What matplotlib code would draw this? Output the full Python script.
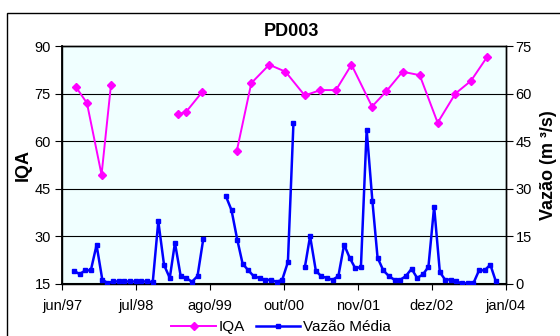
import matplotlib
matplotlib.use('Agg')
import matplotlib.pyplot as plt
import matplotlib.dates as mdates
from matplotlib.lines import Line2D
from matplotlib.patches import Rectangle
import numpy as np
import pandas as pd

plt.rcParams['font.family'] = ['Liberation Sans', 'DejaVu Sans']

nan = np.nan

# IQA (quarterly-ish samples), NaN entries break the line
iqa_datas = ['1997-09-10', '1997-11-10', '1998-01-28', '1998-03-20', '1998-09-01',
             '1999-03-17', '1999-04-30', '1999-07-25', '1999-10-15',
             '2000-01-30', '2000-04-17', '2000-07-23', '2000-10-19',
             '2001-01-31', '2001-04-26', '2001-07-19', '2001-10-11',
             '2002-01-30', '2002-04-17', '2002-07-14', '2002-10-15',
             '2003-01-20', '2003-04-26', '2003-07-19', '2003-10-14']
iqa = [77.2, 72.0, 49.4, 77.8, nan,
       68.5, 69.2, 75.4, nan,
       57.0, 78.3, 84.1, 81.9,
       74.4, 76.1, 76.1, 84.1,
       70.9, 75.7, 81.9, 80.8,
       65.8, 75.0, 79.0, 86.5]

# monthly mean flow, starting set/97
vazao_inicio = '1997-09-01'
vazao = [4.1, 3.0, 4.2, 4.2, 12.2, 1.3, 0.2, 0.7, 0.7, 0.7,
         0.7, 0.7, 0.7, 0.7, 0.5, 19.7, 5.9, 1.8, 12.9, 2.4,
         1.8, 0.6, 2.4, 14.0, nan, nan, nan, 27.7, 23.2, 13.9,
         6.3, 4.2, 2.3, 1.8, 1.2, 1.2, 0.6, 1.2, 6.8, 50.7,
         nan, 5.3, 15.0, 4.1, 2.3, 1.8, 1.2, 2.4, 12.3, 8.2,
         4.8, 5.3, 48.6, 26.1, 8.2, 4.2, 2.4, 1.2, 1.2, 2.4,
         4.7, 1.8, 2.9, 5.3, 24.3, 3.6, 1.3, 1.3, 0.7, 0.1,
         0.1, 0.1, 4.2, 4.2, 6.0, 0.7]

x_labels = ['jun/97', 'jul/98', 'ago/99', 'out/00', 'nov/01', 'dez/02', 'jan/04']
iqa_ticks = [15, 30, 45, 60, 75, 90]
vazao_ticks = [0, 15, 30, 45, 60, 75]

fig = plt.figure(figsize=(5.6, 3.36), dpi=100)
ax = fig.add_axes([0.1107, 0.1557, 0.7923, 0.7073])
ax2 = ax.twinx()

# chart area border (cropped on right/bottom)
fig.patches.append(Rectangle((7 / 560, -0.1), 1.0, 1.1 - 13 / 336, fill=False,
                             edgecolor='black', lw=1.0, transform=fig.transFigure))

ax.set_facecolor('#F0FFFF')
ax2.patch.set_visible(False)

# x axis: Excel style date axis, ticks every 400 days
x0 = pd.Timestamp('1997-06-28')
x_ticks = [x0 + pd.Timedelta(days=400 * i) for i in range(len(x_labels))]
ax.set_xlim(x_ticks[0], x_ticks[-1])
ax.set_xticks(x_ticks)
ax.set_xticklabels(x_labels, fontsize=10.5)

ax.set_ylim(15, 90)
ax.set_yticks(iqa_ticks)
ax.tick_params(axis='y', labelsize=10.5, direction='out', length=5, pad=3)
ax.tick_params(axis='x', direction='out', length=4, pad=7)
for y in iqa_ticks[1:-1]:
    ax.axhline(y, color='black', lw=0.8, zorder=1)

ax2.set_ylim(0, 75)
ax2.set_yticks(vazao_ticks)
ax2.tick_params(axis='y', labelsize=10.5, direction='out', length=5, pad=2)

for a in (ax, ax2):
    for s in a.spines.values():
        s.set_linewidth(1.0)
        s.set_color('black')
ax.spines['bottom'].set_linewidth(1.5)
ax.spines['left'].set_linewidth(1.3)

ax.plot(pd.to_datetime(iqa_datas), iqa, color='#FF00FF', lw=1.4, marker='D',
        markersize=4.5, zorder=3)
vazao_meses = pd.date_range(vazao_inicio, periods=len(vazao), freq='MS')
ax2.plot(vazao_meses, vazao, color='#0000FF', lw=1.8, marker='s',
         markersize=3, zorder=3)

ax.set_ylabel('IQA', fontsize=13, fontweight='bold', labelpad=2)
ax2.set_ylabel('Vazão (m ³/s)', fontsize=13, fontweight='bold', labelpad=6)
fig.text(0.52, 0.905, 'PD003', ha='center', va='center', fontsize=13, fontweight='bold')

legend_items = [
    Line2D([0], [0], color='#FF00FF', lw=1.4, marker='D', markersize=4.5, label='IQA'),
    Line2D([0], [0], color='#0000FF', lw=1.8, marker='s', markersize=3, label='Vazão Média'),
]
fig.legend(handles=legend_items, loc='center', bbox_to_anchor=(0.502, 0.027), ncol=2,
           frameon=False, fontsize=11, handlelength=2.9, handletextpad=0.2,
           columnspacing=0.7, borderaxespad=0)

fig.savefig('out.png', dpi=100)
